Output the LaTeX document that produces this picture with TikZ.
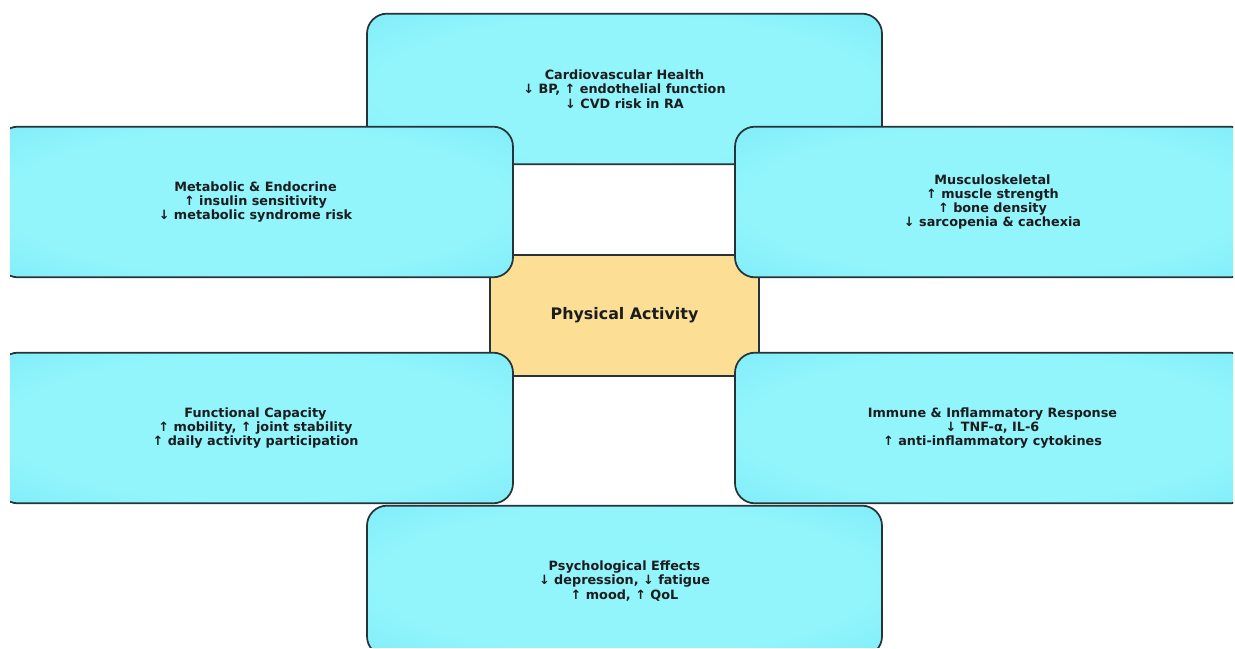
\documentclass[tikz,border=0pt]{standalone}
\usepackage{fontspec}
\setmainfont{DejaVu Sans}
\definecolor{cyL}{RGB}{146,245,252}
\definecolor{cyM}{RGB}{122,234,247}
\definecolor{cyD}{RGB}{84,214,236}
\definecolor{orL}{RGB}{252,222,148}
\definecolor{orD}{RGB}{248,208,122}
\definecolor{edge}{RGB}{38,52,58}
\definecolor{txt}{RGB}{26,28,30}
\pgfdeclareradialshading{cyanglow}{\pgfpoint{0bp}{0bp}}{color(0bp)=(cyL); color(24bp)=(cyL); color(40bp)=(cyM); color(52bp)=(cyD); color(72bp)=(cyD)}
\pgfdeclareradialshading{orangeglow}{\pgfpoint{0bp}{0bp}}{color(0bp)=(orL); color(30bp)=(orL); color(55bp)=(orD); color(72bp)=(orD)}
\tikzset{
  effbox/.style={rectangle, rounded corners=15pt, draw=edge, line width=1.3pt,
    shade, shading=cyanglow, minimum width=386.25pt, minimum height=113pt,
    align=center, text=txt, font=\bfseries\fontsize{9.6}{10.7}\selectfont, inner sep=0pt},
  corebox/.style={rectangle, rounded corners=15pt, draw=edge, line width=1.3pt,
    shade, shading=orangeglow, minimum width=201.75pt, minimum height=90.75pt,
    align=center, text=txt, font=\bfseries\fontsize{11.9}{14}\selectfont, inner sep=0pt}
}
\begin{document}
\begin{tikzpicture}[x=0.75pt, y=-0.75pt]
\useasboundingbox (0,0) rectangle (1235,649);
\begin{scope}
\clip (10,0) rectangle (1233,647);
\node[effbox] (cardio) at (624.5,89) {Cardiovascular Health\\↓ BP, ↑ endothelial function\\↓ CVD risk in RA};
\node[corebox] (pa) at (624.5,315.5) {Physical Activity};
\node[effbox] (metab) at (255.5,202) {Metabolic \& Endocrine\\↑ insulin sensitivity\\↓ metabolic syndrome risk};
\node[effbox] (musc) at (992.5,202) {Musculoskeletal\\↑ muscle strength\\↑ bone density\\↓ sarcopenia \& cachexia};
\node[effbox] (func) at (255.5,428) {Functional Capacity\\↑ mobility, ↑ joint stability\\↑ daily activity participation};
\node[effbox] (immune) at (992.5,428) {Immune \& Inflammatory Response\\↓ TNF-α, IL-6\\↑ anti-inflammatory cytokines};
\node[effbox] (psych) at (624.5,581) {Psychological Effects\\↓ depression, ↓ fatigue\\↑ mood, ↑ QoL};
\end{scope}
\end{tikzpicture}
\end{document}
